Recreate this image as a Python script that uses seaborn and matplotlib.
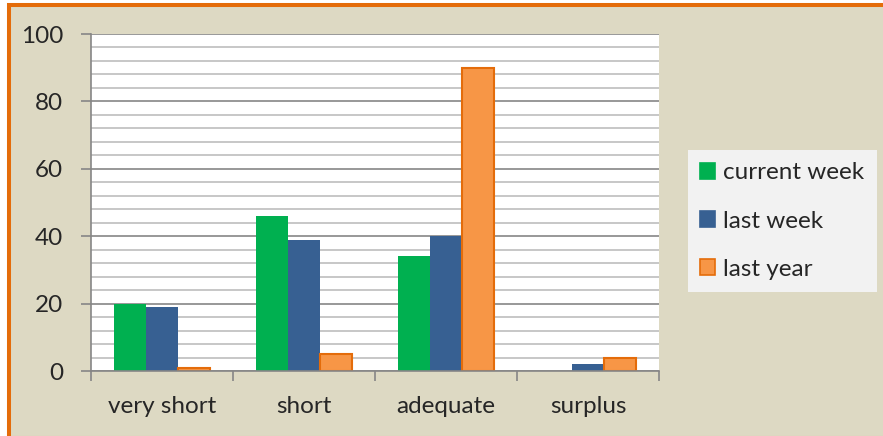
import pandas as pd
import matplotlib.pyplot as plt
import seaborn as sns
from matplotlib.ticker import MultipleLocator, FixedLocator
from matplotlib.patches import Rectangle

# Data
categories = ["very short", "short", "adequate", "surplus"]
series_names = ["current week", "last week", "last year"]
current_week = [20, 46, 34, 0]
last_week = [19, 39, 40, 2]
last_year = [1, 5, 90, 4]

colors = {"current week": "#00B050", "last week": "#376092", "last year": "#F79646"}

df = pd.DataFrame({
    "category": categories * 3,
    "series": ["current week"] * 4 + ["last week"] * 4 + ["last year"] * 4,
    "value": current_week + last_week + last_year,
})

sns.set_style("white")
plt.rcParams["font.family"] = ["Lato", "DejaVu Sans"]

fig = plt.figure(figsize=(8.83, 4.36), dpi=100, facecolor="white")

# tan chart area with orange frame (cut off at right and bottom)
x0, y0 = 9 / 883, -2 / 436
x1, y1 = 895 / 883, 1 - 5 / 436
fig.patches.append(Rectangle((x0, y0), x1 - x0, y1 - y0, transform=fig.transFigure,
                             facecolor="#DDD9C3", edgecolor="#E46C0A", linewidth=2.9,
                             zorder=-10))

ax = fig.add_axes([91 / 883, 1 - 371 / 436, (659 - 91) / 883, (371 - 34) / 436])
ax.set_facecolor("white")

sns.barplot(data=df, x="category", y="value", hue="series", order=categories,
            hue_order=series_names, palette=colors, width=0.67, gap=0,
            saturation=1, ax=ax, legend=False)

# orange bars get a darker outline
for cont, name in zip(ax.containers, series_names):
    for bar in cont:
        if name == "last year":
            bar.set_edgecolor("#E46C0A")
            bar.set_linewidth(1.5)
        else:
            bar.set_edgecolor("none")

ax.set_ylim(0, 100)
ax.set_xlim(-0.5, 3.5)
ax.yaxis.set_major_locator(MultipleLocator(20))
ax.yaxis.set_minor_locator(MultipleLocator(4))
ax.grid(True, which="minor", axis="y", color="#BEBEBE", linewidth=1.2)
ax.grid(True, which="major", axis="y", color="#868686", linewidth=1.2)
ax.set_axisbelow(True)

ax.xaxis.set_minor_locator(FixedLocator([-0.5, 0.5, 1.5, 2.5, 3.5]))
ax.tick_params(axis="x", which="major", length=0, pad=18, labelsize=17.5)
ax.tick_params(axis="x", which="minor", length=7, color="#868686", width=1.2, direction="out")
ax.tick_params(axis="y", which="major", length=7, color="#868686", width=1.2,
               direction="out", labelsize=17.5, pad=13)
ax.tick_params(axis="y", which="minor", length=0)
ax.tick_params(bottom=True, left=True, which="both")

ax.set_xlabel("")
ax.set_ylabel("")
for side in ["top", "right"]:
    ax.spines[side].set_visible(False)
for side in ["left", "bottom"]:
    ax.spines[side].set_color("#868686")
    ax.spines[side].set_linewidth(1.2)

# legend
handles = [Rectangle((0, 0), 1, 1, facecolor=colors[n],
                     edgecolor="#E46C0A" if n == "last year" else colors[n], linewidth=1.2)
           for n in series_names]
leg = fig.legend(handles, series_names, loc="center left",
                 bbox_to_anchor=(688 / 883, 1 - 221 / 436), frameon=True,
                 fancybox=False, framealpha=1, facecolor="#F2F2F2", edgecolor="#F2F2F2",
                 fontsize=17.5, handlelength=0.62, handleheight=0.62, handletextpad=0.33,
                 labelspacing=1.12, borderpad=0.5, borderaxespad=0)
leg.get_frame().set_linewidth(0)

plt.savefig("out.png", dpi=100, facecolor=fig.get_facecolor())
